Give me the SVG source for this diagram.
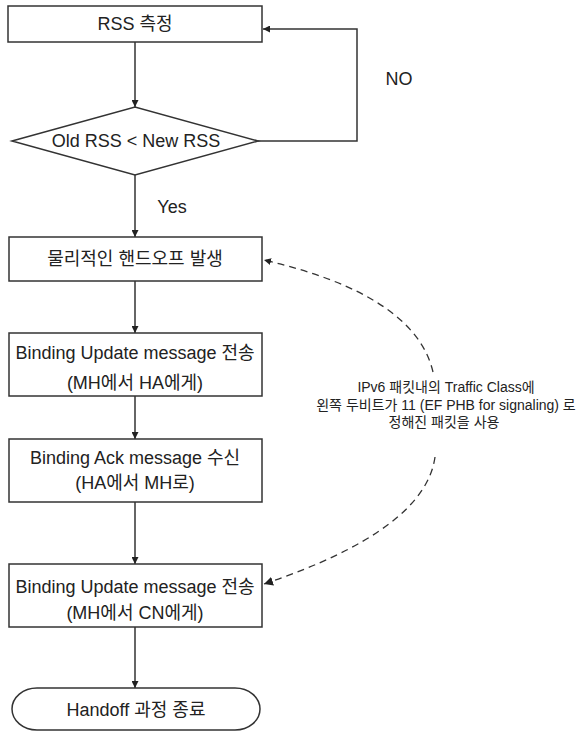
<svg xmlns="http://www.w3.org/2000/svg" width="586" height="733" viewBox="0 0 586 733">
<style>
.box{fill:#fff;stroke:#333;stroke-width:1.5}
.t{font-family:"Liberation Sans","Noto Sans CJK KR",sans-serif;font-size:18px;fill:#222;text-anchor:middle}
.s{font-family:"Liberation Sans","Noto Sans CJK KR",sans-serif;font-size:14px;fill:#222;text-anchor:middle}
.c{fill:none;stroke:#333;stroke-width:1.5}
.d{fill:none;stroke:#333;stroke-width:1.3;stroke-dasharray:7 5}
</style>
<defs>
<marker id="a" viewBox="0 0 10 10" refX="10" refY="5" markerWidth="7" markerHeight="7" markerUnits="userSpaceOnUse" orient="auto"><path d="M0,0 L10,5 L0,10 z" fill="#222"/></marker>
<marker id="b" viewBox="0 0 10 10" refX="10" refY="5" markerWidth="9" markerHeight="9" markerUnits="userSpaceOnUse" orient="auto"><path d="M0,0 L10,5 L0,10 z" fill="#222"/></marker>
</defs>
<rect width="586" height="733" fill="#fff"/>
<g id="connectors">
<line class="c" x1="135" y1="42" x2="135" y2="107" marker-end="url(#a)"/>
<polyline class="c" points="258,141 357,141 357,29 263,29" marker-end="url(#a)"/>
<line class="c" x1="135" y1="175" x2="135" y2="237" marker-end="url(#a)"/>
<line class="c" x1="135" y1="281" x2="135" y2="333" marker-end="url(#a)"/>
<line class="c" x1="135" y1="396" x2="135" y2="439" marker-end="url(#a)"/>
<line class="c" x1="135" y1="502" x2="135" y2="564" marker-end="url(#a)"/>
<line class="c" x1="135" y1="627" x2="135" y2="688" marker-end="url(#a)"/>
<path class="d" d="M433,372 Q415,295 264,260" marker-end="url(#a)"/>
<path class="d" d="M435,457 Q425,530 264,584" marker-end="url(#b)"/>
<text class="t" x="399" y="85" font-size="17">NO</text>
<text class="t" x="172" y="213" font-size="17">Yes</text>
</g>
<g id="note">
<text class="s" x="446" y="392">IPv6 패킷내의 Traffic Class에</text>
<text class="s" x="446" y="410">왼쪽 두비트가 11 (EF PHB for signaling) 로</text>
<text class="s" x="444" y="427">정해진 패킷을 사용</text>
</g>
<g id="n1"><rect class="box" x="8" y="6" width="254" height="36"/><text class="t" x="135" y="30">RSS 측정</text></g>
<g id="n2"><polygon class="box" points="12,141 135,107 258,141 135,175"/><text class="t" x="136" y="147">Old RSS &lt; New RSS</text></g>
<g id="n3"><rect class="box" x="9" y="237" width="253" height="44"/><text class="t" x="135" y="265">물리적인 핸드오프 발생</text></g>
<g id="n4"><rect class="box" x="9" y="333" width="253" height="63"/><text class="t" x="135" y="359">Binding Update message 전송</text><text class="t" x="135" y="389">(MH에서 HA에게)</text></g>
<g id="n5"><rect class="box" x="9" y="439" width="253" height="63"/><text class="t" x="135" y="464">Binding Ack message 수신</text><text class="t" x="135" y="489">(HA에서 MH로)</text></g>
<g id="n6"><rect class="box" x="9" y="564" width="253" height="63"/><text class="t" x="135" y="593">Binding Update message 전송</text><text class="t" x="135" y="619">(MH에서 CN에게)</text></g>
<g id="n7"><path class="box" d="M37,688 L235,688 A25,21 0 0 1 235,730 L37,730 A25,21 0 0 1 37,688 z"/><text class="t" x="136" y="716">Handoff 과정 종료</text></g>
</svg>
